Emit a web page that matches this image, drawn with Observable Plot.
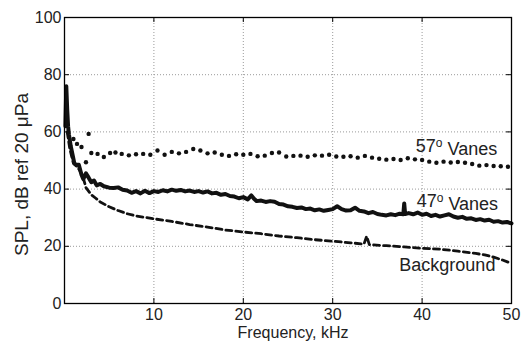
<!DOCTYPE html>
<html>
<head>
<meta charset="utf-8">
<script src="https://cdn.jsdelivr.net/npm/d3@7"></script>
<script src="https://cdn.jsdelivr.net/npm/@observablehq/plot@0.6"></script>
<style>
  html, body { margin: 0; padding: 0; background: #fff; }
  #chart svg { display: block; }
</style>
</head>
<body>
<div id="chart"></div>
<script>
// ---- tick values ----
const xTicks = [10, 20, 30, 40, 50];
const yTicks = [0, 20, 40, 60, 80, 100];
const xGrid = [10, 20, 30, 40];
const yGrid = [20, 40, 60, 80];

// ---- axis titles ----
const xTitle = "Frequency, kHz";
const yTitle = "SPL, dB ref 20 \u03BCPa";

// ---- 47° vanes (solid) ----
const vanes47Freq = [0.1, 0.2, 0.3, 0.4, 0.5, 0.7, 0.9, 1.1, 1.3, 1.6, 1.9, 2.1, 2.4, 2.7, 3.0, 3.3, 3.6, 4.0, 4.4, 5,
  5.5, 6, 6.5, 7, 7.5, 8, 8.5, 9, 9.5, 10, 10.5, 11, 11.5, 12, 12.5, 13, 13.5, 14, 14.5, 15, 15.5, 16, 16.5, 17, 17.5,
  18, 18.5, 19, 19.5, 20, 20.5, 20.9, 21.2, 21.5, 22, 22.5, 23, 23.5, 24, 24.5, 25, 25.5, 26, 26.5, 27, 27.5, 28, 28.5,
  29, 29.5, 30, 30.5, 31, 31.5, 32, 32.5, 33, 33.5, 34, 34.5, 35, 35.5, 36, 36.5, 37, 37.5, 37.9, 38, 38.1, 38.5, 39,
  39.5, 40, 40.5, 41, 41.5, 42, 42.5, 43, 43.5, 44, 44.5, 45, 45.5, 46, 46.5, 47, 47.5, 48, 48.5, 49, 49.5, 50];
const vanes47SPL = [62, 76, 68, 62, 59, 55, 52, 49, 48.5, 48.5, 45, 43.5, 45.5, 44, 42.4, 43, 41.3, 41.8, 41, 40.5,
  40.4, 40.6, 39.8, 39.5, 38.7, 39.3, 38.5, 39.4, 38.6, 39.3, 39, 39.6, 39.2, 39.8, 39.4, 39.7, 39.2, 39.5, 39, 39.3, 38.8, 39.2, 38.5, 38.7, 38,
  38.3, 37.6, 37.4, 36.8, 37.2, 36.4, 37.8, 36.6, 35.8, 36, 35.5, 35.8, 35.6, 34.8, 34.6, 34, 33.8, 33.4, 33.6, 33, 33.2, 32.6, 32.9,
  32.4, 32.7, 33, 34, 33, 32.5, 32.6, 33.5, 32.4, 32.2, 31.6, 32, 31.3, 31, 30.8, 31.2, 30.9, 31.4, 31.2, 35, 31.3, 31.6, 31.2,
  31.8, 31, 31.4, 30.6, 31, 30.4, 30.8, 31.2, 30.4, 30, 30.3, 29.6, 29.8, 29.2, 29.5, 29, 29.3, 28.6, 28.8, 28.3, 28.5, 28];

// ---- 57° vanes (dotted) ----
const vanes57Freq = [1.0, 1.4, 1.9, 2.4, 2.7, 3.0, 3.7, 4.4, 5.1, 5.7, 6.4, 7.2, 8.0, 8.8, 9.6, 10.4, 11.2, 12.0,
  12.8, 13.6, 14.4, 15.2, 16.0, 16.8, 17.6, 18.4, 19.2, 20.0, 20.8, 21.6, 22.4, 23.2, 24.0, 24.8, 25.6, 26.4, 27.2,
  28.0, 28.8, 29.6, 30.4, 31.2, 32.0, 32.8, 33.6, 34.4, 35.2, 36.0, 36.8, 37.6, 38.4, 39.2, 40.0, 40.8, 41.6, 42.4,
  43.2, 44.0, 44.8, 45.6, 46.4, 47.2, 48.0, 48.8, 49.6];
const vanes57SPL = [57.5, 55.8, 54.7, 49.4, 59.3, 52.6, 52.3, 51.2, 52.6, 52.8, 52.3, 51.8, 52.2, 52.3, 52, 53.5, 52, 53, 52.5,
  53, 54, 53.5, 52.5, 52.8, 52, 51.6, 52.2, 52, 52.3, 51.5, 51.7, 52.6, 52.8, 51.4, 51.6, 51.7, 51.3, 51.8,
  51.7, 52, 51.4, 51.3, 51.5, 51, 51.6, 51, 50.6, 50.3, 50.5, 50.2, 50.8, 50.4, 50.2, 49.6, 49.2, 49.6, 49.3,
  49.5, 49.2, 48.8, 48.2, 48.4, 48.1, 48, 47.8];

// ---- background (dashed) ----
const bgFreq = [0.3, 0.6, 1, 1.5, 2, 2.4, 3, 3.5, 4, 5, 6, 7, 8, 9, 10, 12, 14, 16, 18, 20, 22, 24, 26, 28, 30, 32,
  33.5, 33.8, 34.1, 36, 38, 40, 42, 44, 46, 47, 48, 49, 50];
const bgSPL = [60, 54, 49, 47.5, 45, 40.5, 38, 36.8, 35.5, 33.8, 32.5, 31.4, 30.6, 30.1, 29.6, 28.7, 27.6, 26.7, 25.7, 25, 24.4,
  23.6, 23, 22.3, 21.8, 21.2, 20.8, 23.5, 20.6, 20.2, 19.8, 19.3, 19, 18.3, 17.5, 17, 16.2, 15.2, 14];

// ---- series labels ----
const labelText = ["57o Vanes", "47o Vanes", "Background"];
const labelFreq = [48.4, 48.5, 48.2];
const labelSPL = [52.8, 33.6, 11.2];

const toRows = (fs, vs) => fs.map((f, i) => ({f, v: vs[i]}));
const rows47 = toRows(vanes47Freq, vanes47SPL);
const rows57 = toRows(vanes57Freq, vanes57SPL);
const rowsBg = toRows(bgFreq, bgSPL);
const labels = labelText.map((t, i) => ({t, f: labelFreq[i], v: labelSPL[i]}));

const W = 523, H = 341, ML = 64, MR = 12, MT = 17, MB = 38;
const plotW = W - ML - MR, plotH = H - MT - MB;
const tickLen = 5;

const chart = Plot.plot({
  width: W, height: H,
  marginLeft: ML, marginRight: MR, marginTop: MT, marginBottom: MB,
  x: {domain: [0, 50]},
  y: {domain: [0, 100]},
  style: {fontFamily: "'Liberation Sans', Arial, sans-serif", fontSize: "16px", color: "#000", background: "#fff"},
  marks: [
    Plot.gridX(xGrid, {stroke: "#9a9a9a", strokeOpacity: 1, strokeDasharray: "1,2"}),
    Plot.gridY(yGrid, {stroke: "#9a9a9a", strokeOpacity: 1, strokeDasharray: "1,2"}),
    Plot.tickX(xTicks, {x: d => d, insetTop: plotH - tickLen, stroke: "#000"}),
    Plot.tickX(xTicks, {x: d => d, insetBottom: plotH - tickLen, stroke: "#000"}),
    Plot.tickY(yTicks, {y: d => d, insetLeft: plotW - tickLen, stroke: "#000"}),
    Plot.tickY(yTicks, {y: d => d, insetRight: plotW - tickLen, stroke: "#000"}),
    Plot.axisX(xTicks, {tickSize: 0, tickPadding: 5, label: null, fontSize: 16, fill: "#222"}),
    Plot.axisY(yTicks, {tickSize: 0, tickPadding: 3, label: null, fontSize: 16, fill: "#222"}),
    Plot.line(rowsBg, {x: "f", y: "v", stroke: "#111", strokeWidth: 2.8, strokeDasharray: "6,4"}),
    Plot.line(rows47, {x: "f", y: "v", stroke: "#111", strokeWidth: 4, strokeLinejoin: "round"}),
    Plot.dot(rows57, {x: "f", y: "v", r: 2.2, fill: "#111", stroke: null}),
    Plot.text(labels, {x: "f", y: "v", text: "t", textAnchor: "end", lineAnchor: "bottom", fontSize: 18, fill: "#222"}),
    Plot.text([xTitle], {frameAnchor: "bottom", textAnchor: "middle", dy: 34.5, dx: 5, lineAnchor: "bottom", fontSize: 16, fill: "#222"}),
    Plot.text([yTitle], {frameAnchor: "left", textAnchor: "middle", rotate: -90, dx: -37, dy: 14, lineAnchor: "bottom", fontSize: 19, fill: "#222"}),
    Plot.frame({stroke: "#000", strokeWidth: 1.3})
  ]
});

// superscript degree marks ("57o" -> 57 with raised o)
d3.select(chart).selectAll("text").each(function() {
  const el = d3.select(this);
  const s = el.text();
  const m = /^(\d+)o (.*)$/.exec(s);
  if (m && this.childElementCount === 0) {
    el.text(null);
    el.append("tspan").text(m[1]);
    el.append("tspan").attr("dy", "-0.45em").attr("font-size", "12").text("o");
    el.append("tspan").attr("dy", "0.45em").text(" " + m[2]);
  }
});

document.getElementById("chart").appendChild(chart);
</script>
</body>
</html>
